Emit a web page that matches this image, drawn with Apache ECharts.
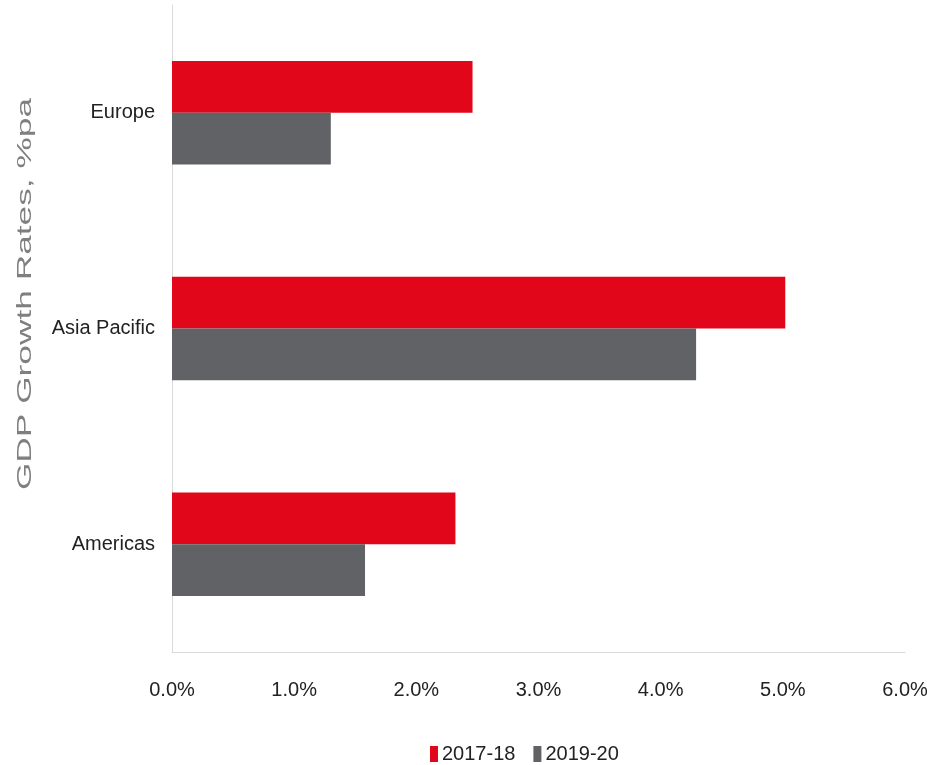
<!DOCTYPE html>
<html>
<head>
<meta charset="utf-8">
<script src="https://cdn.jsdelivr.net/npm/echarts@6/dist/echarts.min.js"></script>
<style>html,body{margin:0;padding:0;background:#fff}#c{width:927px;height:765px}</style>
</head>
<body>
<div id="c"></div>
<script>
var categories = ['Europe', 'Asia Pacific', 'Americas'];
var seriesNames = ['2017-18', '2019-20'];
var values2017 = [2.46, 5.02, 2.32];
var values2019 = [1.30, 4.29, 1.58];
var xTicks = [0, 1, 2, 3, 4, 5, 6];
var axisTitle = 'GDP Growth Rates, %pa';

var chart = echarts.init(document.getElementById('c'));
var lblFont = '"Liberation Sans Narrow", "Liberation Sans", Arial, sans-serif';
chart.setOption({
  animation: false,
  grid: {left: 172, right: 22, top: 5, bottom: 113, outerBoundsMode: 'none', containLabel: false},
  legend: {
    data: seriesNames,
    left: 425, top: 739,
    icon: 'rect', itemWidth: 8, itemHeight: 16, itemGap: 18,
    textStyle: {fontFamily: lblFont, fontSize: 20, color: '#222', padding: [0,0,0,-1]}
  },
  xAxis: {
    type: 'value', min: xTicks[0], max: xTicks[xTicks.length-1], interval: 1,
    axisLine: {show: true, lineStyle: {color: '#d9d9d9', width: 1}},
    axisTick: {show: false},
    splitLine: {show: false},
    axisLabel: {margin: 28, fontFamily: lblFont, fontSize: 20, color: '#222',
      formatter: function (v) { return v.toFixed(1) + '%'; }}
  },
  yAxis: {
    type: 'category', data: categories, inverse: true,
    axisLine: {show: true, lineStyle: {color: '#d9d9d9', width: 1}},
    axisTick: {show: false},
    axisLabel: {margin: 17, fontFamily: lblFont, fontSize: 20, color: '#222'}
  },
  graphic: [{
    type: 'text', x: 25, y: 294, rotation: Math.PI / 2, scaleX: 1.68,
    style: {text: axisTitle, font: '21px "Liberation Sans", Arial, sans-serif',
      fill: '#7f7f7f', align: 'center', verticalAlign: 'middle'}
  }],
  series: [
    {name: seriesNames[0], type: 'bar', data: values2017, barGap: '0%', barCategoryGap: '52%',
      itemStyle: {color: '#e2061a'}},
    {name: seriesNames[1], type: 'bar', data: values2019, barGap: '0%', barCategoryGap: '52%',
      itemStyle: {color: '#616265'}}
  ]
});
</script>
</body>
</html>
